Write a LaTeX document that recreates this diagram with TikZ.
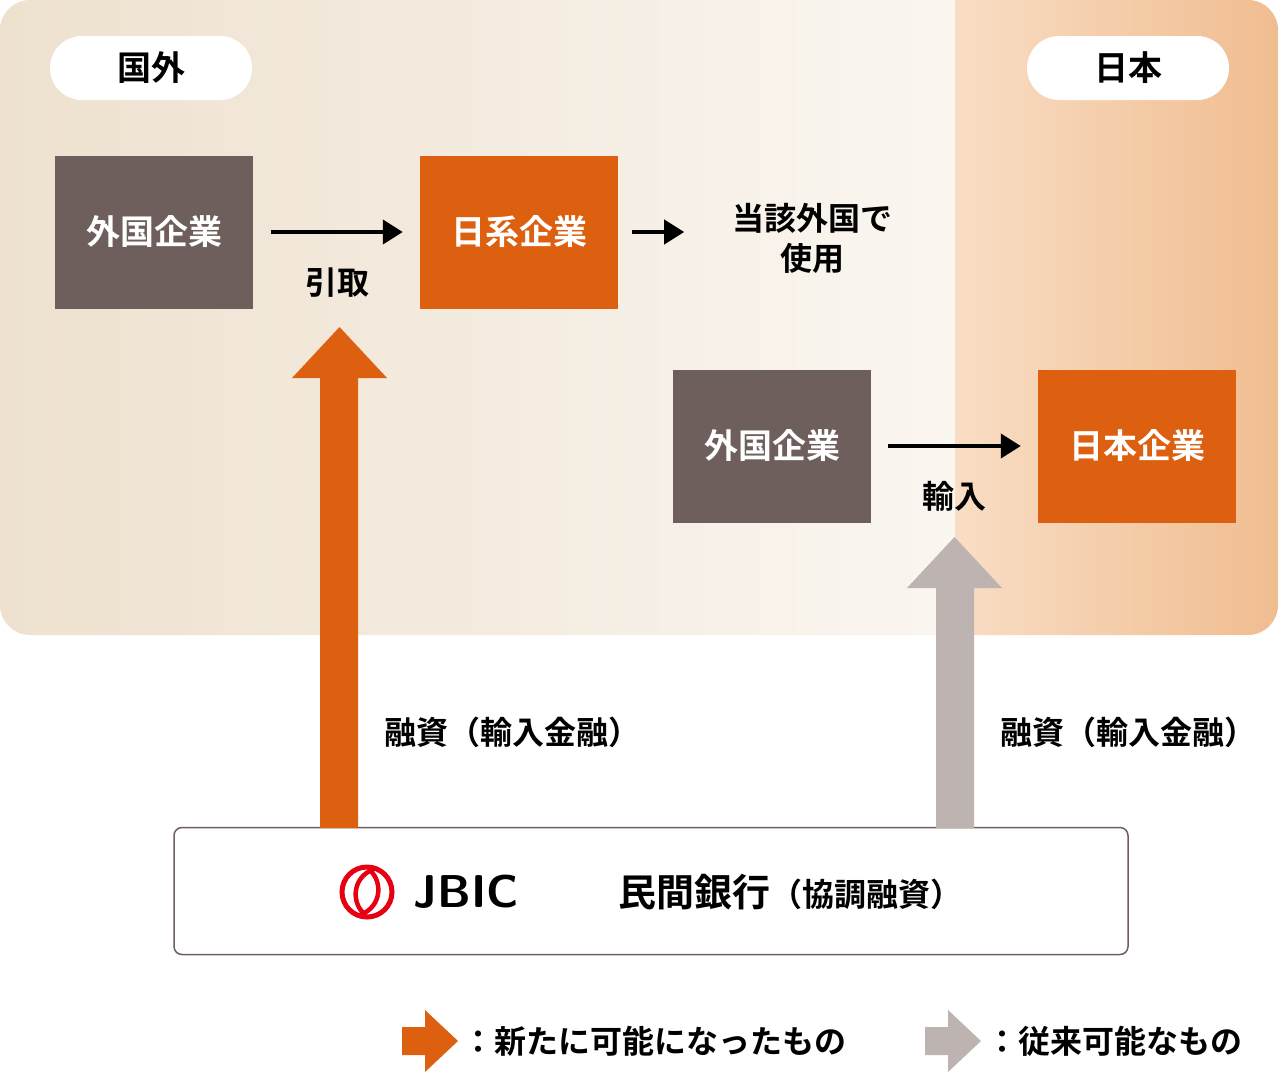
\documentclass[tikz,border=0pt]{standalone}
\usepackage{fontspec}
\setmainfont{Noto Sans CJK JP Bold}
\usetikzlibrary{arrows.meta}
\definecolor{boxgrey}{HTML}{6E5F5C}
\definecolor{boxorange}{HTML}{DC6010}
\definecolor{arrgrey}{HTML}{BDB3B0}
\definecolor{jbicred}{HTML}{E60012}
\definecolor{bgleft}{HTML}{EEE1CF}
\definecolor{bgmid}{HTML}{FAF6F0}
\definecolor{bgjl}{HTML}{F9DDC4}
\definecolor{bgjr}{HTML}{F0BD90}
\tikzset{
  firm/.style={minimum width=198pt, minimum height=153pt, text=white, font=\fontsize{34}{34}\selectfont, inner sep=0pt},
  pill/.style={fill=white, rounded corners=32pt, minimum width=202pt, minimum height=64pt, font=\fontsize{34}{34}\selectfont},
  lbl/.style={font=\fontsize{32}{40}\selectfont, align=center},
  flow/.style={-{Triangle[length=20pt,width=24pt]}, line width=4pt}
}
\begin{document}
\begin{tikzpicture}[x=1pt,y=-1pt]
\useasboundingbox (0,0) rectangle (1280,1077);
% background
\begin{scope}
  \clip[rounded corners=30pt] (0,0) rectangle (1278,635);
  \shade[left color=bgleft, right color=bgmid] (0,0) rectangle (955,635);
  \shade[left color=bgjl, right color=bgjr] (955,0) rectangle (1278,635);
\end{scope}
\node[pill] (abroad) at (151,68) {国外};
\node[pill] (japan) at (1128,68) {日本};
% firms
\node[firm, fill=boxgrey] (foreign1) at (154,232) {外国企業};
\node[firm, fill=boxorange] (jfirm) at (519,232) {日系企業};
\node[lbl, anchor=center] (use) at (812,238) {当該外国で\\使用};
\node[firm, fill=boxgrey] (foreign2) at (772,446) {外国企業};
\node[firm, fill=boxorange] (jpfirm) at (1137,446) {日本企業};
\draw[flow] ([xshift=18pt]foreign1.east) -- node[lbl, below=30pt] {引取} ([xshift=-17pt]jfirm.west);
\draw[flow] ([xshift=14pt]jfirm.east) -- ([xshift=66pt]jfirm.east);
\draw[flow] ([xshift=17pt]foreign2.east) -- node[lbl, below=30pt] {輸入} ([xshift=-17pt]jpfirm.west);
% lenders
\node[draw=boxgrey, line width=1.5pt, rounded corners=8pt, minimum width=954pt, minimum height=127pt] (bank) at (651,891) {};
\draw[jbicred, line width=5pt] (367,892) circle (25pt);
\draw[jbicred, line width=4.5pt] (374,869) .. controls (350,878) and (352,906) .. (366,915);
\draw[jbicred, line width=4.5pt] (360,915) .. controls (384,906) and (382,878) .. (368,869);
\node[font=\fontsize{46}{46}\selectfont\sffamily\bfseries] (jbic) at (466,892) {JBIC};
\node[font=\fontsize{38}{38}\selectfont] (private) at (790,892) {民間銀行{\fontsize{32}{32}\selectfont（協調融資）}};
% loans
\fill[boxorange] (320,828) -- (320,378) -- (292,378) -- (339.5,327) -- (387,378) -- (358,378) -- (358,828) -- cycle;
\fill[arrgrey] (936,828) -- (936,588) -- (907,588) -- (954.5,537) -- (1002,588) -- (974,588) -- (974,828) -- cycle;
\node[lbl] (loan1) at (512,732) {融資（輸入金融）};
\node[lbl] (loan2) at (1128,732) {融資（輸入金融）};
% legend
\fill[boxorange] (402,1027) -- (425,1027) -- (425,1010) -- (458,1041) -- (425,1072) -- (425,1055) -- (402,1055) -- cycle;
\node[lbl, anchor=west, inner sep=0pt] (newleg) at (462,1041) {：新たに可能になったもの};
\fill[arrgrey] (925,1027) -- (948,1027) -- (948,1010) -- (981,1041) -- (948,1072) -- (948,1055) -- (925,1055) -- cycle;
\node[lbl, anchor=west, inner sep=0pt] (oldleg) at (986,1041) {：従来可能なもの};
\end{tikzpicture}
\end{document}
